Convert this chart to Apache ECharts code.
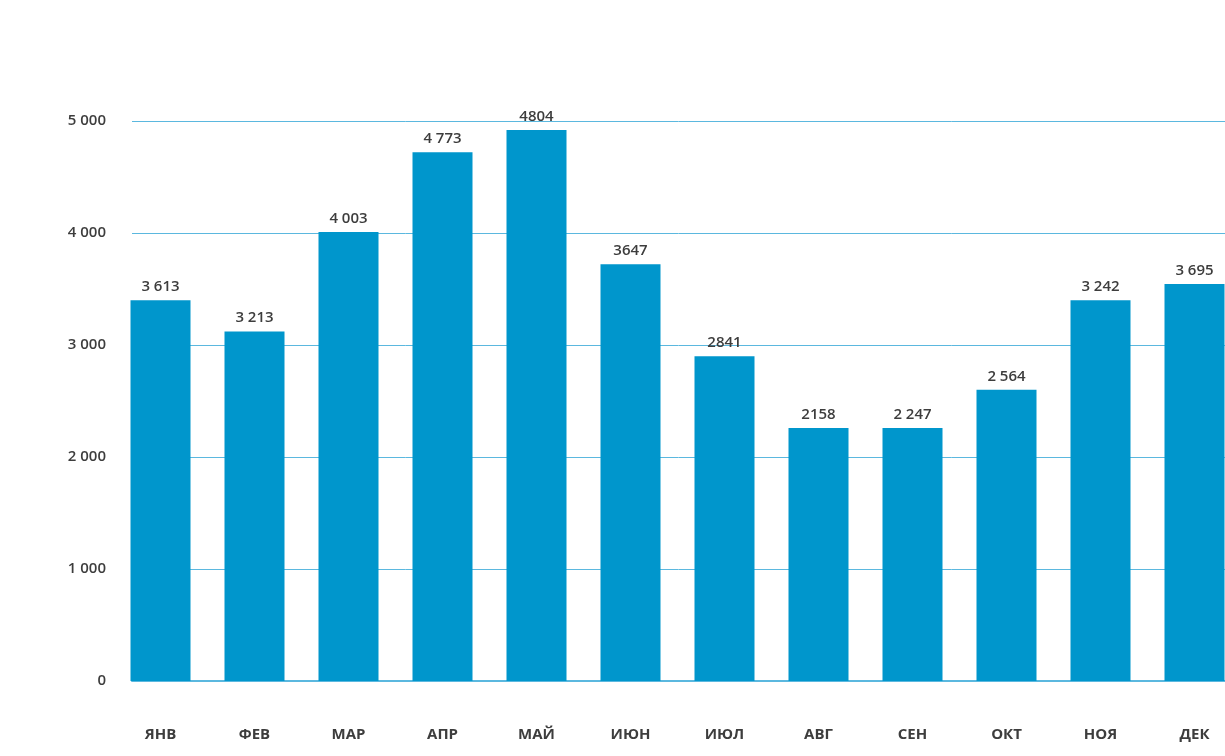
<!DOCTYPE html>
<html>
<head>
<meta charset="utf-8">
<script src="https://cdn.jsdelivr.net/npm/echarts@6/dist/echarts.min.js"></script>
<style>
html,body{margin:0;padding:0;background:#fff;}
#chart{width:1225px;height:756px;}
</style>
</head>
<body>
<div id="chart"></div>
<script>
// Month categories
const categories = ['ЯНВ','ФЕВ','МАР','АПР','МАЙ','ИЮН','ИЮЛ','АВГ','СЕН','ОКТ','НОЯ','ДЕК'];
// Bar heights as drawn in the picture
const barValues = [3400, 3120, 4010, 4720, 4920, 3720, 2900, 2260, 2260, 2600, 3400, 3545];
// Value labels as printed above the bars
const barLabels = ['3 613','3 213','4 003','4 773','4804','3647','2841','2158','2 247','2 564','3 242','3 695'];
// Y-axis tick labels
const yTicks = [0, 1000, 2000, 3000, 4000, 5000];
const yTickLabels = ['0','1 000','2 000','3 000','4 000','5 000'];

const FONT = '"Open Sans", "Noto Sans", sans-serif';
const TEXT = '#3d3d3d';
const LINE = '#5BB8DF';
const BAR = '#0096CC';

const chart = echarts.init(document.getElementById('chart'), null, {renderer:'canvas'});
chart.setOption({
  animation: false,
  backgroundColor: '#fff',
  grid: [
    {left: 132, width: 1093, top: 121, height: 560, outerBoundsMode: 'none', containLabel: false},
    {left: 113.5, width: 1128, top: 121, height: 560, outerBoundsMode: 'none', containLabel: false}
  ],
  xAxis: [
    {
      gridIndex: 0, type: 'value', min: 0, max: 1,
      axisLine: {show: true, lineStyle: {color: LINE, width: 2}},
      axisTick: {show: false}, axisLabel: {show: false}, splitLine: {show: false}
    },
    {
      gridIndex: 1, type: 'category', data: categories,
      axisLine: {show: false}, axisTick: {show: false},
      axisLabel: {margin: 46, color: TEXT, fontFamily: FONT, fontWeight: 700, fontSize: 15}
    }
  ],
  yAxis: [
    {
      gridIndex: 0, type: 'value', min: 0, max: 5000, interval: 1000,
      axisLine: {show: false}, axisTick: {show: false},
      splitLine: {show: true, lineStyle: {color: LINE, width: 1}},
      axisLabel: {
        margin: 26, color: TEXT, fontFamily: FONT, fontWeight: 600, fontSize: 15,
        formatter: v => yTickLabels[yTicks.indexOf(v)]
      }
    },
    {
      gridIndex: 1, type: 'value', min: 0, max: 5000, interval: 1000,
      show: false, splitLine: {show: false}, axisLine: {show: false}
    }
  ],
  series: [{
    type: 'bar',
    xAxisIndex: 1, yAxisIndex: 1,
    data: barValues,
    barWidth: 60,
    itemStyle: {color: BAR},
    z: 3,
    label: {
      show: true, position: 'top', distance: 6,
      color: TEXT, fontFamily: FONT, fontWeight: 600, fontSize: 15,
      formatter: p => barLabels[p.dataIndex]
    }
  }]
});
</script>
</body>
</html>
